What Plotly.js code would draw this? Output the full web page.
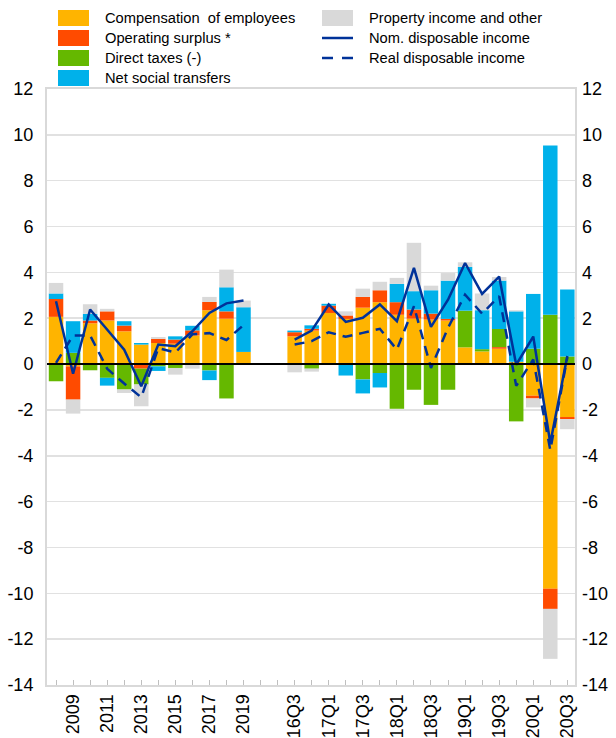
<!DOCTYPE html>
<html><head><meta charset="utf-8">
<script src="https://cdn.plot.ly/plotly-3.0.1.min.js"></script>
<style>html,body{margin:0;padding:0;background:#fff}#chart{width:616px;height:738px}</style>
</head><body><div id="chart"></div>
<script>
// ---- categories & tick labels ----
const years = ['2008','2009','2010','2011','2012','2013','2014','2015','2016','2017','2018','2019'];
const gaps = ['gap1','gap2'];
const quarters = ['16Q3','16Q4','17Q1','17Q2','17Q3','17Q4','18Q1','18Q2','18Q3','18Q4','19Q1','19Q2','19Q3','19Q4','20Q1','20Q2','20Q3'];
const categories = years.concat(gaps, quarters);
const tickLabels = ['', '2009', '', '2011', '', '2013', '', '2015', '', '2017', '', '2019',
  '', '',
  '16Q3', '', '17Q1', '', '17Q3', '', '18Q1', '', '18Q3', '', '19Q1', '', '19Q3', '', '20Q1', '', '20Q3'];
const yTickVals = [-14,-12,-10,-8,-6,-4,-2,0,2,4,6,8,10,12];
const yTickLabels = ['-14','-12','-10','-8','-6','-4','-2','0','2','4','6','8','10','12'];

// ---- series (annual 2008-2019, gap, quarterly 16Q3-20Q3) ----
const compensation   = [2.06,-0.1,1.78,1.9,1.43,0.85,0.92,0.89,1.25,2.35,1.98,0.53, null,null, 1.21,1.46,2.23,1.97,2.46,2.7,2.15,1.98,1.94,1.9,0.73,0.55,0.67,0.1,-1.38,-9.8,-2.31];
const operatingSurplus = [0.78,-1.45,0.12,0.4,0.25,-0.2,0.18,0.18,0.22,0.36,0.32,0, null,null, 0.18,0.08,0.32,0.15,0.47,0.52,0.55,0.4,0.26,0.07,0,0,0.07,0,-0.12,-0.88,-0.09];
const directTaxes    = [-0.75,0.49,-0.27,-0.6,-1.11,-0.69,-0.1,-0.17,0,-0.28,-1.5,0, null,null, 0,-0.2,0,0,-0.67,-0.39,-1.95,-1.12,-1.78,-1.12,1.6,0.1,0.79,-2.5,0.67,2.15,0.33];
const socialTransfers = [0.24,1.38,0.29,-0.34,0.19,0.07,-0.2,0.14,0.2,-0.42,1.05,1.95, null,null, 0.07,0.15,0.08,-0.5,-0.61,-0.63,0.8,0.8,1.02,1.67,1.91,1.7,2.11,2.2,2.39,7.38,2.92];
const propertyIncome = [0.46,-0.61,0.42,0.11,-0.15,-0.95,0.08,-0.29,-0.2,0.22,0.77,0.29, null,null, -0.36,-0.13,0,0.18,0.36,0.37,0.26,2.11,0.2,0.33,0.2,0.73,0.16,0.05,-0.39,-2.18,-0.44];
const nominalIncome  = [2.74,-0.42,2.38,1.5,0.63,-0.97,0.85,0.78,1.43,2.23,2.65,2.77, null,null, 1.07,1.46,2.6,1.84,2.02,2.6,1.87,4.2,1.62,2.81,4.41,3.06,3.82,-0.03,1.2,-3.44,0.35];
const realIncome     = [0.05,1.25,1.25,-0.2,-0.85,-1.45,0.7,0.5,1.3,1.35,1.05,1.7, null,null, 0.85,1.0,1.39,1.19,1.36,1.54,0.63,2.52,-0.17,1.58,3.03,2.2,2.96,-0.95,0.2,-3.75,0.3];

const barNames = ['Compensation  of employees','Operating surplus *','Direct taxes (-)','Net social transfers','Property income and other'];
const barColors = ['#FFB400','#FF4B00','#65B800','#00B1EA','#D9D9D9'];
const lineNames = ['Nom. disposable income','Real disposable income'];
const lineColor = '#003299';

const barSeries = [compensation, operatingSurplus, directTaxes, socialTransfers, propertyIncome];
const traces = barSeries.map((vals, i) => ({
  type: 'bar', x: categories, y: vals, name: barNames[i],
  marker: {color: barColors[i], line: {width: 0}},
  showlegend: false, hoverinfo: 'x+y+name'
}));
traces.push({type:'scatter', mode:'lines', x: categories, y: nominalIncome, name: lineNames[0],
  line:{color: lineColor, width: 2.5}, showlegend:false, connectgaps:false});
traces.push({type:'scatter', mode:'lines', x: categories, y: realIncome, name: lineNames[1],
  line:{color: lineColor, width: 2.5, dash:'10px,7px'}, showlegend:false, connectgaps:false});
// invisible trace to activate right-hand axis
traces.push({type:'scatter', mode:'lines', x: categories, y: nominalIncome, yaxis:'y2',
  line:{width:0, color:'rgba(0,0,0,0)'}, hoverinfo:'skip', showlegend:false});

// ---- layout geometry ----
const W = 616, H = 738;
const M = {l: 47, r: 41, t: 89, b: 53};
const PW = W - M.l - M.r, PH = H - M.t - M.b;
const px = v => (v - M.l) / PW;
const py = v => (H - M.b - v) / PH;

const font = 'Liberation Sans, Arial, sans-serif';
const legendFont = {family: font, size: 14.7, color:'#000'};
const shapes = [], annotations = [];
const rowY = [18, 38, 58, 78];
// left column: bar series 0-3
for (let i = 0; i < 4; i++) {
  shapes.push({type:'rect', xref:'paper', yref:'paper', x0: px(58), x1: px(89), y0: py(rowY[i]+8), y1: py(rowY[i]-8),
    fillcolor: barColors[i], line:{width:0}});
  annotations.push({xref:'paper', yref:'paper', x: px(103), y: py(rowY[i]), xanchor:'left', yanchor:'middle',
    text: barNames[i], showarrow:false, font: legendFont});
}
// right column: property, nom, real
shapes.push({type:'rect', xref:'paper', yref:'paper', x0: px(322), x1: px(353), y0: py(rowY[0]+8), y1: py(rowY[0]-8),
  fillcolor: barColors[4], line:{width:0}});
annotations.push({xref:'paper', yref:'paper', x: px(367), y: py(rowY[0]), xanchor:'left', yanchor:'middle',
  text: barNames[4], showarrow:false, font: legendFont});
shapes.push({type:'line', xref:'paper', yref:'paper', x0: px(322), x1: px(353), y0: py(rowY[1]), y1: py(rowY[1]),
  line:{color: lineColor, width: 2.5}});
shapes.push({type:'line', xref:'paper', yref:'paper', x0: px(322), x1: px(333), y0: py(rowY[2]), y1: py(rowY[2]),
  line:{color: lineColor, width: 2.5}});
shapes.push({type:'line', xref:'paper', yref:'paper', x0: px(342), x1: px(353), y0: py(rowY[2]), y1: py(rowY[2]),
  line:{color: lineColor, width: 2.5}});
for (let j = 0; j < 2; j++) {
  annotations.push({xref:'paper', yref:'paper', x: px(367), y: py(rowY[j+1]), xanchor:'left', yanchor:'middle',
    text: lineNames[j], showarrow:false, font: legendFont});
}

const yTickFont = {family: font, size: 18, color: '#000'};
const layout = {
  width: W, height: H, margin: M,
  paper_bgcolor: '#fff', plot_bgcolor: '#fff',
  barmode: 'relative', bargap: 0.15,
  showlegend: false,
  font: {family: font, color: '#000'},
  xaxis: {
    type: 'category', categoryorder: 'array', categoryarray: categories,
    range: [-0.53, 30.45],
    tickmode: 'array', tickvals: categories, ticktext: tickLabels,
    tickangle: -90, tickfont: {family: font, size: 18, color: '#000'},
    ticks: 'inside', ticklen: 5, tickcolor: '#BFBFBF', tickwidth: 1,
    showline: true, mirror: true, linecolor: '#D9D9D9', linewidth: 2,
    showgrid: false, zeroline: false, fixedrange: true
  },
  yaxis: {
    range: [-14, 12], tickmode: 'array', tickvals: yTickVals, ticktext: yTickLabels,
    tickfont: yTickFont, ticks: '', ticklabelstandoff: 8,
    showgrid: true, gridcolor: '#E1E1E1', gridwidth: 1.5,
    zeroline: true, zerolinecolor: '#000', zerolinewidth: 2, zerolinelayer: 'above traces',
    showline: true, mirror: true, linecolor: '#D9D9D9', linewidth: 2, fixedrange: true
  },
  yaxis2: {
    overlaying: 'y', side: 'right', range: [-14, 12], tickmode: 'array', tickvals: yTickVals, ticktext: yTickLabels,
    tickfont: yTickFont, ticks: '', ticklabelstandoff: 6,
    showgrid: false, zeroline: false, showline: false, fixedrange: true
  },
  shapes: shapes, annotations: annotations
};

Plotly.newPlot('chart', traces, layout, {displayModeBar: false, staticPlot: true});
</script></body></html>
